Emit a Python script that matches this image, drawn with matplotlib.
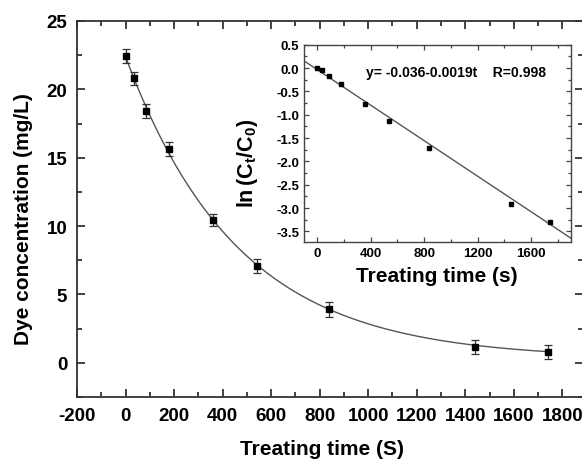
import numpy as np
import matplotlib
matplotlib.use("Agg")
import matplotlib.pyplot as plt
from matplotlib.ticker import MultipleLocator

plt.rcParams['font.family'] = ['Liberation Sans', 'DejaVu Sans']
plt.rcParams['font.weight'] = 'bold'
plt.rcParams['axes.labelweight'] = 'bold'
plt.rcParams['axes.unicode_minus'] = False
plt.rcParams['mathtext.fontset'] = 'custom'
plt.rcParams['mathtext.rm'] = 'Liberation Sans:bold'
plt.rcParams['mathtext.it'] = 'Liberation Sans:bold:italic'
plt.rcParams['mathtext.bf'] = 'Liberation Sans:bold'

# Main data
time_s = [0, 35, 85, 180, 360, 540, 840, 1440, 1740]
conc = [22.45, 20.8, 18.4, 15.65, 10.45, 7.1, 3.9, 1.15, 0.8]
conc_err = [0.5, 0.5, 0.5, 0.5, 0.45, 0.5, 0.55, 0.5, 0.5]
# fitted decay curve parameters (C = A*exp(-k t) + y0)
fit_A, fit_k, fit_y0 = 22.1, 0.00216, 0.3

# Inset data
inset_t = [0, 35, 85, 180, 360, 540, 840, 1450, 1740]
inset_ln = [0.01, -0.05, -0.18, -0.35, -0.77, -1.13, -1.72, -2.92, -3.30]
lin_a, lin_b = -0.036, -0.0019
inset_fit_x = [-100, 1900]

fig = plt.figure(figsize=(5.82, 4.64), dpi=100)
ax = fig.add_axes([77/582, 1-398/464, (583-77)/582, (398-22)/464])

tc = np.linspace(min(time_s), max(time_s), 300)
ax.plot(tc, fit_A*np.exp(-fit_k*tc) + fit_y0, color='#555555', lw=1.0, zorder=2)
ax.errorbar(time_s, conc, yerr=conc_err, fmt='s', color='black', ms=5,
            ecolor='#333333', elinewidth=0.9, capsize=3.2, capthick=0.9, zorder=3)

ax.set_xlim(-200, 1885)
ax.set_ylim(-2.5, 25)
ax.xaxis.set_major_locator(MultipleLocator(200))
ax.xaxis.set_minor_locator(MultipleLocator(100))
ax.yaxis.set_major_locator(MultipleLocator(5))
ax.yaxis.set_minor_locator(MultipleLocator(2.5))
ax.tick_params(which='both', direction='in', top=True, right=True, width=1.2,
               colors='#222222', labelsize=13.5, labelcolor='black')
ax.tick_params(which='major', length=6, pad=7)
ax.tick_params(which='minor', length=3.5)
for s in ax.spines.values():
    s.set_linewidth(1.3)
    s.set_color('#333333')
ax.set_xlabel('Treating time (S)', fontsize=15)
ax.set_ylabel('Dye concentration (mg/L)', fontsize=15)
ax.xaxis.set_label_coords(0.484, -0.113)
ax.yaxis.set_label_coords(-0.087, 0.475)

# Inset
ai = fig.add_axes([304/582, 1-242.7/464, (571-304)/582, (242.7-45.7)/464])
fx = np.array(inset_fit_x, dtype=float)
ai.plot(fx, lin_a + lin_b*fx, color='#555555', lw=1.0)
ai.plot(inset_t, inset_ln, 's', color='black', ms=2.8)
ai.set_xlim(-100, 1900)
ai.set_ylim(-3.72, 0.5)
ai.xaxis.set_major_locator(MultipleLocator(400))
ai.xaxis.set_minor_locator(MultipleLocator(200))
ai.yaxis.set_major_locator(MultipleLocator(0.5))
ai.yaxis.set_minor_locator(MultipleLocator(0.25))
ai.tick_params(which='both', direction='in', top=True, right=True, width=0.9,
               colors='#444444', labelsize=9.5, labelcolor='black')
ai.tick_params(which='major', length=3.5, pad=3.5)
ai.tick_params(which='minor', length=2)
for s in ai.spines.values():
    s.set_linewidth(1.0)
    s.set_color('#444444')
ai.set_xlabel('Treating time (s)', fontsize=15)
ai.set_ylabel(r'ln$\,$(C$_\mathrm{t}$/C$_\mathrm{0}$)', fontsize=15.5)
ai.xaxis.set_label_coords(0.498, -0.125)
ai.yaxis.set_label_coords(-0.165, 0.405)
ai.text(362, -0.09, 'y= -0.036-0.0019t    R=0.998', fontsize=10, fontweight='bold',
        ha='left', va='center')

fig.savefig('out.png', dpi=100)
